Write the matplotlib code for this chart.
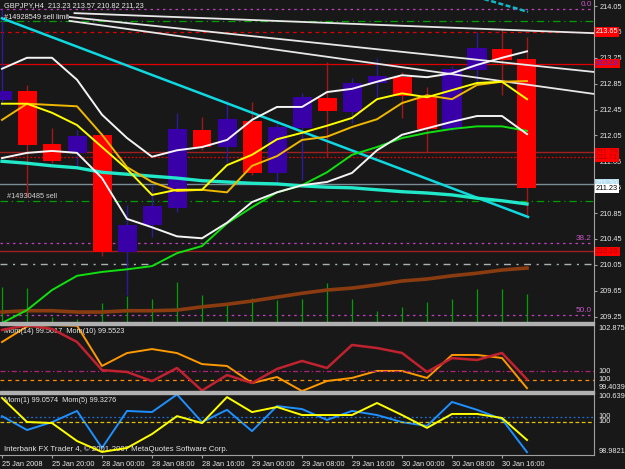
import matplotlib
matplotlib.use("Agg")
import matplotlib.pyplot as plt
from matplotlib.patches import Rectangle

plt.rcParams['font.family'] = ['Liberation Sans', 'DejaVu Sans']

# GBPJPY H4 candles
opens  = [212.60, 212.74, 211.92, 211.78, 212.06, 210.25, 210.67, 210.93, 212.13, 211.87, 212.27,
          211.47, 212.16, 212.63, 212.41, 212.86, 212.95, 212.64, 212.15, 213.06, 213.39, 213.23]
highs  = [214.00, 212.83, 212.16, 212.13, 212.09, 210.97, 211.28, 212.40, 212.33, 212.60, 212.57,
          212.29, 212.70, 213.18, 212.94, 213.25, 213.03, 212.80, 213.12, 213.65, 213.69, 213.57]
lows   = [212.57, 211.10, 211.62, 211.53, 210.19, 209.58, 210.48, 210.87, 211.82, 211.62, 211.44,
          211.31, 211.36, 211.72, 212.24, 212.64, 212.32, 211.79, 212.12, 212.88, 212.67, 210.82]
closes = [212.74, 211.90, 211.65, 212.04, 210.25, 210.67, 210.96, 212.15, 211.87, 212.30, 211.47,
          212.18, 212.64, 212.43, 212.86, 212.97, 212.66, 212.15, 213.08, 213.40, 213.22, 211.23]

# indicators on the price chart
band_upper = [213.08, 213.25, 213.25, 212.91, 212.37, 212.01, 211.72, 211.82, 211.87, 211.98, 212.29,
              212.49, 212.49, 212.72, 212.77, 212.88, 212.98, 212.95, 213.01, 213.14, 213.25, 213.35]
band_lower = [211.70, 211.78, 211.81, 211.78, 211.39, 210.76, 210.63, 210.49, 210.46, 210.70, 211.02,
              211.17, 211.28, 211.33, 211.47, 211.82, 212.06, 212.16, 212.26, 212.35, 212.35, 212.07]
ma_fast = [212.54, 212.54, 212.40, 212.21, 211.87, 211.53, 211.13, 211.21, 211.21, 211.59, 211.75,
           211.99, 212.09, 212.20, 212.32, 212.61, 212.70, 212.64, 212.75, 212.86, 212.88, 212.61]
ma_slow = [212.29, 212.54, 212.52, 212.50, 212.06, 211.56, 211.33, 211.19, 211.21, 211.17, 211.58,
           211.73, 211.98, 212.03, 212.18, 212.30, 212.55, 212.67, 212.61, 212.83, 212.88, 212.89]
ma_green = [209.15, 209.35, 209.66, 209.88, 209.94, 209.98, 210.03, 210.23, 210.34, 210.69, 210.94,
            211.17, 211.28, 211.48, 211.75, 211.87, 212.01, 212.09, 212.15, 212.19, 212.19, 212.12]
ma_aqua = [211.65, 211.62, 211.58, 211.55, 211.48, 211.45, 211.42, 211.39, 211.35, 211.33, 211.31,
           211.30, 211.27, 211.25, 211.24, 211.21, 211.18, 211.16, 211.13, 211.08, 211.04, 210.99]
ma_brown = [209.32, 209.34, 209.34, 209.32, 209.32, 209.34, 209.34, 209.35, 209.40, 209.44, 209.49,
            209.55, 209.61, 209.66, 209.69, 209.74, 209.80, 209.83, 209.88, 209.92, 209.97, 210.00]
vol_level = [209.71, 209.69, 209.24, 209.22, 209.46, 209.57, 209.52, 209.78, 209.58, 209.46, 209.54,
             209.51, 209.52, 209.77, 209.52, 209.34, 209.40, 209.48, 209.52, 209.68, 209.68, 209.60]

# trend lines: (bar, price) -> (bar, price)
trend_white = [((2.9, 213.94), (23.7, 213.63)),
               ((2.7, 213.88), (23.7, 213.03)),
               ((2.7, 213.82), (23.7, 212.69))]
trend_cyan = ((0, 213.86), (21.04, 210.79))
trend_cyan2 = ((19.0, 214.19), (21.04, 213.96))

# horizontal objects
fibo_levels = ["0.0", "38.2", "50.0"]
fibo_prices = [214.00, 210.39, 209.27]
sell_limit = 213.82
sell_order = 211.04
stop_lines = [213.65, 213.16, 211.79, 211.71, 210.26]
ask_price = 211.30
grey_level = 210.06

# momentum sub windows
mom14 = [102.16, 102.40, 102.21, 101.53, 100.05, 99.95, 99.47, 100.16, 98.97, 99.79, 99.37,
         100.11, 100.53, 100.16, 101.37, 101.21, 100.95, 99.95, 100.68, 100.58, 100.95, 99.5617]
mom10 = [101.98, 102.80, 102.8753, 102.84, 100.72, 101.40, 101.61, 101.40, 100.82, 100.72, 99.82,
         100.14, 99.40, 99.93, 100.09, 100.46, 100.46, 100.09, 101.30, 101.30, 101.14, 99.5523]
mom1 = [100.02, 99.65, 99.86, 100.16, 99.17, 100.16, 100.13, 100.60, 99.86, 100.19, 99.62,
        100.29, 100.21, 99.92, 100.16, 100.05, 99.86, 99.76, 100.40, 100.19, 99.94, 99.0574]
mom5 = [100.90, 100.00, 99.96, 99.29, 98.88, 99.03, 99.55, 100.22, 99.96, 100.93, 100.37,
        100.56, 100.26, 100.26, 100.26, 100.71, 100.26, 99.78, 100.30, 100.30, 100.15, 99.3276]

price_ticks = [214.05, 213.65, 213.25, 212.85, 212.45, 212.05, 211.65, 211.25, 210.85,
               210.45, 210.05, 209.65, 209.25]
time_ticks = [0, 2, 4, 6, 8, 10, 12, 14, 16, 18, 20]
time_labels = ["25 Jan 2008", "25 Jan 20:00", "28 Jan 00:00", "28 Jan 08:00", "28 Jan 16:00",
               "29 Jan 00:00", "29 Jan 08:00", "29 Jan 16:00", "30 Jan 00:00", "30 Jan 08:00",
               "30 Jan 16:00"]

BG = '#181818'
FG = '#e8e8e8'
GRID = '#a0a0a0'
FS = 5.3
W, H = 625, 469
PLOT_W = 594

fig = plt.figure(figsize=(6.25, 4.69), dpi=100, facecolor=BG)


def add_panel(top, bottom):
    ax = fig.add_axes([0, 1 - bottom / H, PLOT_W / W, (bottom - top) / H])
    ax.set_facecolor(BG)
    ax.set_xlim(-0.08, 23.68)
    for s in ['top', 'left', 'bottom']:
        ax.spines[s].set_visible(False)
    ax.spines['right'].set_color(GRID)
    ax.tick_params(axis='x', bottom=False, labelbottom=False)
    ax.yaxis.tick_right()
    ax.tick_params(axis='y', colors=GRID, labelcolor=FG, labelsize=FS, length=2.5, pad=1.5, width=0.8)
    return ax


ax = add_panel(0, 322)
ax.set_ylim(209.166, 214.143)
ax.set_yticks(price_ticks)
ax.set_yticklabels([f"{p:.2f}" for p in price_ticks])

xs = list(range(len(opens)))

# horizontal lines
for lvl, p in zip(fibo_levels, fibo_prices):
    ax.axhline(p, color='#c040c0', lw=0.9, ls=(0, (2, 3)), zorder=1)
    ax.text(23.6, p + 0.015, lvl, color='#c858c8', fontsize=FS + 0.6, ha='right', va='bottom', zorder=6)
ax.axhline(sell_limit, color='#00a000', lw=0.9, ls=(0, (6, 3, 1, 3)), zorder=1)
ax.axhline(sell_order, color='#00a000', lw=0.9, ls=(0, (6, 3, 1, 3)), zorder=1)
ax.axhline(stop_lines[0], color='#e00000', lw=0.9, ls=(0, (3, 3)), zorder=1)
ax.axhline(stop_lines[1], color='#e00000', lw=0.9, zorder=1)
ax.axhline(stop_lines[2], color='#a02020', lw=1.0, zorder=1)
ax.axhline(stop_lines[3], color='#e00000', lw=0.9, ls=(0, (1.5, 1.5)), zorder=1)
ax.axhline(stop_lines[4], color='#a02020', lw=1.0, zorder=1)
ax.axhline(ask_price, color='#7a8c94', lw=1.0, zorder=1)
ax.axhline(grey_level, color='#a8b0b0', lw=1.0, ls=(0, (5, 4, 1.5, 4)), zorder=1)

# volume-like green bars
ax.vlines(xs, 209.166, vol_level, color='#00a000', lw=0.9, zorder=1.5)

# candles
for i in xs:
    o, h, l, c = opens[i], highs[i], lows[i], closes[i]
    up = c >= o
    ax.vlines(i, l, h, color='#2c1c9c' if up else '#a01818', lw=1.0, zorder=2)
    ax.bar(i, abs(c - o), bottom=min(o, c), width=0.76,
           color='#3a00a8' if up else '#ff0000', zorder=2.2)

# trend lines
for (x0, y0), (x1, y1) in trend_white:
    ax.plot([x0, x1], [y0, y1], color='#e8e8e8', lw=1.3, zorder=3)
ax.plot([trend_cyan[0][0], trend_cyan[1][0]], [trend_cyan[0][1], trend_cyan[1][1]],
        color='#10d8e0', lw=1.8, zorder=3)
ax.plot([trend_cyan2[0][0], trend_cyan2[1][0]], [trend_cyan2[0][1], trend_cyan2[1][1]],
        color='#10b8c8', lw=1.8, ls=(0, (2, 1)), zorder=3)

# indicator lines
ax.plot(xs, ma_brown, color='#8a3c10', lw=2.6, zorder=3)
ax.plot(xs, ma_aqua, color='#20e8c8', lw=2.4, zorder=3)
ax.plot(xs, ma_green, color='#10e010', lw=1.4, zorder=3.1)
ax.plot(xs, ma_slow, color='#f0b800', lw=1.4, zorder=3.2)
ax.plot(xs, ma_fast, color='#ffff00', lw=1.4, zorder=3.3)
ax.plot(xs, band_upper, color='#f4f4f4', lw=1.4, zorder=3.4)
ax.plot(xs, band_lower, color='#f4f4f4', lw=1.4, zorder=3.4)

# texts
ax.text(0.1, 214.05, "GBPJPY,H4  213.23 213.57 210.82 211.23", color=FG, fontsize=FS,
        va='center', ha='left', zorder=6)
ax.text(0.1, sell_limit + 0.06, "#14928549 sell limit", color=FG, fontsize=FS,
        va='center', ha='left', zorder=6)
ax.text(0.2, sell_order + 0.07, "#14930485 sell", color='#d0d0d0', fontsize=FS,
        va='center', ha='left', zorder=6)


def price_box(p, txt, face, tc):
    ax.text(1.003, p, txt, transform=ax.get_yaxis_transform(), fontsize=FS, color=tc,
            ha='left', va='center', zorder=10, clip_on=False,
            bbox=dict(boxstyle='square,pad=0.15', fc=face, ec='none'))


price_box(stop_lines[0], "213.65", '#ff0000', '#ffffff')
price_box(stop_lines[1], "213.16", '#ff0000', '#3030ff')
price_box(stop_lines[2], "211.79", '#ff0000', '#b00000')
price_box(stop_lines[3], "211.71", '#ff0000', '#b00000')
price_box(ask_price, "211.30", '#b8e0f0', '#f0f8ff')
price_box(closes[-1], "211.23", '#ffffff', '#000000')
price_box(stop_lines[4], "210.26", '#ff0000', '#b00000')

# momentum panel 1
ax1 = add_panel(325, 391)
ax1.set_ylim(99.4039, 102.8753)
ax1.set_yticks([])
ax1b = ax1.twinx()
ax1b.set_ylim(98.95, 102.42)
ax1b.axis('off')
ax1.axhline(100, color='#ff8c00', lw=0.9, ls=(0, (3, 3)))
ax1b.axhline(100, color='#b0207a', lw=0.9, ls=(0, (4, 2, 1, 2)))
ax1.plot(xs, mom10, color='#ff9900', lw=1.4, zorder=3)
ax1b.plot(xs, mom14, color='#c82020', lw=1.8, zorder=3)
ax1b.plot(xs, mom14, color='#9030a0', lw=0.6, ls=(0, (1, 2)), zorder=3.1)
ax1.text(0.006, 0.90, "Mom(14) 99.5617  Mom(10) 99.5523", transform=ax1.transAxes, color=FG,
         fontsize=FS, va='center', ha='left', zorder=6)
yt1 = ax1.get_yaxis_transform()
ax1.text(1.007, 102.8753, "102.8753", transform=yt1, color=FG, fontsize=FS, va='top', clip_on=False)
ax1.text(1.007, 99.4039, "99.4039", transform=yt1, color=FG, fontsize=FS, va='bottom', clip_on=False)
ax1.text(1.007, 100, "100", transform=yt1, color=FG, fontsize=FS, va='center', clip_on=False)
ax1b.text(1.007, 100, "100", transform=ax1b.get_yaxis_transform(), color=FG, fontsize=FS,
          va='center', clip_on=False)

# momentum panel 2
ax2 = add_panel(393, 455)
ax2.set_ylim(98.9821, 100.6394)
ax2.set_yticks([])
ax2b = ax2.twinx()
ax2b.set_ylim(98.767, 101.083)
ax2b.axis('off')
ax2.axhline(100, color='#1e70d0', lw=0.9, ls=(0, (1.5, 2)))
ax2b.axhline(100, color='#e0c000', lw=0.9, ls=(0, (3, 2)))
ax2.plot(xs, mom1, color='#1e90ff', lw=1.4, zorder=3)
ax2b.plot(xs, mom5, color='#ffff00', lw=1.4, zorder=3)
ax2.text(0.006, 0.885, "Mom(1) 99.0574  Mom(5) 99.3276", transform=ax2.transAxes, color=FG,
         fontsize=FS, va='center', ha='left', zorder=6)
ax2.text(0.006, 0.09, "Interbank FX Trader 4, \u00a9 2001-2007 MetaQuotes Software Corp.",
         transform=ax2.transAxes, color=FG, fontsize=FS + 0.3, va='center', ha='left', zorder=6)
yt2 = ax2.get_yaxis_transform()
ax2.text(1.007, 100.6394, "100.6394", transform=yt2, color=FG, fontsize=FS, va='top', clip_on=False)
ax2.text(1.007, 98.9821, "98.9821", transform=yt2, color=FG, fontsize=FS, va='bottom', clip_on=False)
ax2.text(1.007, 100, "100", transform=yt2, color=FG, fontsize=FS, va='center', clip_on=False)
ax2b.text(1.007, 100, "100", transform=ax2b.get_yaxis_transform(), color=FG, fontsize=FS,
          va='center', clip_on=False)

# time axis
ax2.spines['bottom'].set_visible(True)
ax2.spines['bottom'].set_color(GRID)
ax2.set_xticks(time_ticks)
ax2.set_xticklabels(time_labels)
ax2.tick_params(axis='x', bottom=True, labelbottom=True, colors=GRID, labelcolor=FG,
                labelsize=FS, length=2.5, pad=1.5)
for lbl in ax2.get_xticklabels():
    lbl.set_horizontalalignment('left')

# panel separators
for y0 in (322, 391):
    fig.add_artist(Rectangle((0, 1 - (y0 + 2.5) / H), PLOT_W / W, 2.5 / H,
                             transform=fig.transFigure, color='#b0b0b0', zorder=20))

fig.savefig("out.png", dpi=100, facecolor=BG)
